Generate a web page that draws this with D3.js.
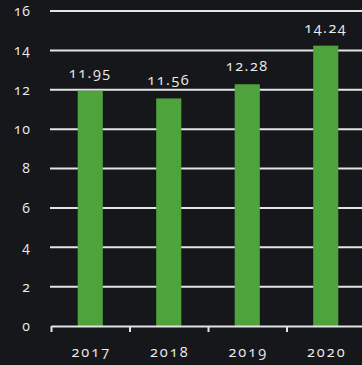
<!DOCTYPE html>
<html>
<head>
<meta charset="utf-8">
<script src="https://cdn.jsdelivr.net/npm/d3@7"></script>
<style>
  html, body { margin: 0; padding: 0; background: #15171b; }
  svg { display: block; }
  text { font-family: "Open Sans", "Lato", sans-serif; font-variant-numeric: oldstyle-nums; font-feature-settings: "onum" 1; fill: #ececec; }
</style>
</head>
<body>
<svg id="chart" width="362" height="365"></svg>
<script>
// Annual values shown as green columns
const years = ["2017", "2018", "2019", "2020"];
const values = [11.95, 11.56, 12.28, 14.24];
const yTicks = [0, 2, 4, 6, 8, 10, 12, 14, 16];

const W = 362, H = 365;
const plot = { left: 51, right: 365, top: 11, bottom: 326 };

const svg = d3.select("#chart");
svg.append("rect").attr("width", W).attr("height", H).attr("fill", "#15171b");

const x = d3.scaleBand().domain(years).range([plot.left, plot.right])
  .paddingInner(0.68).paddingOuter(0.34);
const y = d3.scaleLinear().domain([0, 16]).range([plot.bottom, plot.top]);

// horizontal gridlines
svg.append("g").selectAll("line")
  .data(yTicks.filter(d => d > 0))
  .join("line")
  .attr("x1", plot.left - 1).attr("x2", W)
  .attr("y1", d => y(d)).attr("y2", d => y(d))
  .attr("stroke", "#e4e4e4").attr("stroke-width", 2);

// y tick labels
svg.append("g").selectAll("text")
  .data(yTicks)
  .join("text")
  .attr("x", 31).attr("y", d => y(d))
  .attr("dy", "0.35em")
  .attr("text-anchor", "end")
  .attr("font-size", 14)
  .attr("letter-spacing", "1px")
  .text(d => d);

// bars
svg.append("g").selectAll("rect")
  .data(values)
  .join("rect")
  .attr("x", (d, i) => x(years[i]))
  .attr("width", x.bandwidth())
  .attr("y", d => y(d))
  .attr("height", d => y(0) - y(d))
  .attr("fill", "#4ea33c");

// value labels
svg.append("g").selectAll("text")
  .data(values)
  .join("text")
  .attr("x", (d, i) => x(years[i]) + x.bandwidth() / 2)
  .attr("y", d => y(d) - 13)
  .attr("text-anchor", "middle")
  .attr("font-size", 14.5)
  .attr("letter-spacing", "1.5px")
  .text(d => d.toFixed(2));

// baseline axis with band boundary ticks
const xAxis = d3.axisBottom(d3.scaleLinear().domain([0, 4]).range([plot.left, plot.left + x.step() * 4]))
  .tickValues([0, 1, 2, 3, 4]).tickSize(6).tickSizeOuter(0).tickFormat("");
const gAxis = svg.append("g").attr("transform", `translate(0,${plot.bottom})`).call(xAxis);
gAxis.select(".domain").attr("stroke", "#e4e4e4").attr("stroke-width", 2);
gAxis.selectAll(".tick line").attr("stroke", "#e4e4e4").attr("stroke-width", 2);

// year labels
svg.append("g").selectAll("text")
  .data(years)
  .join("text")
  .attr("x", d => x(d) + x.bandwidth() / 2 + 1)
  .attr("y", 357)
  .attr("text-anchor", "middle")
  .attr("font-size", 14.5)
  .attr("letter-spacing", "2px")
  .text(d => d);
</script>
</body>
</html>
